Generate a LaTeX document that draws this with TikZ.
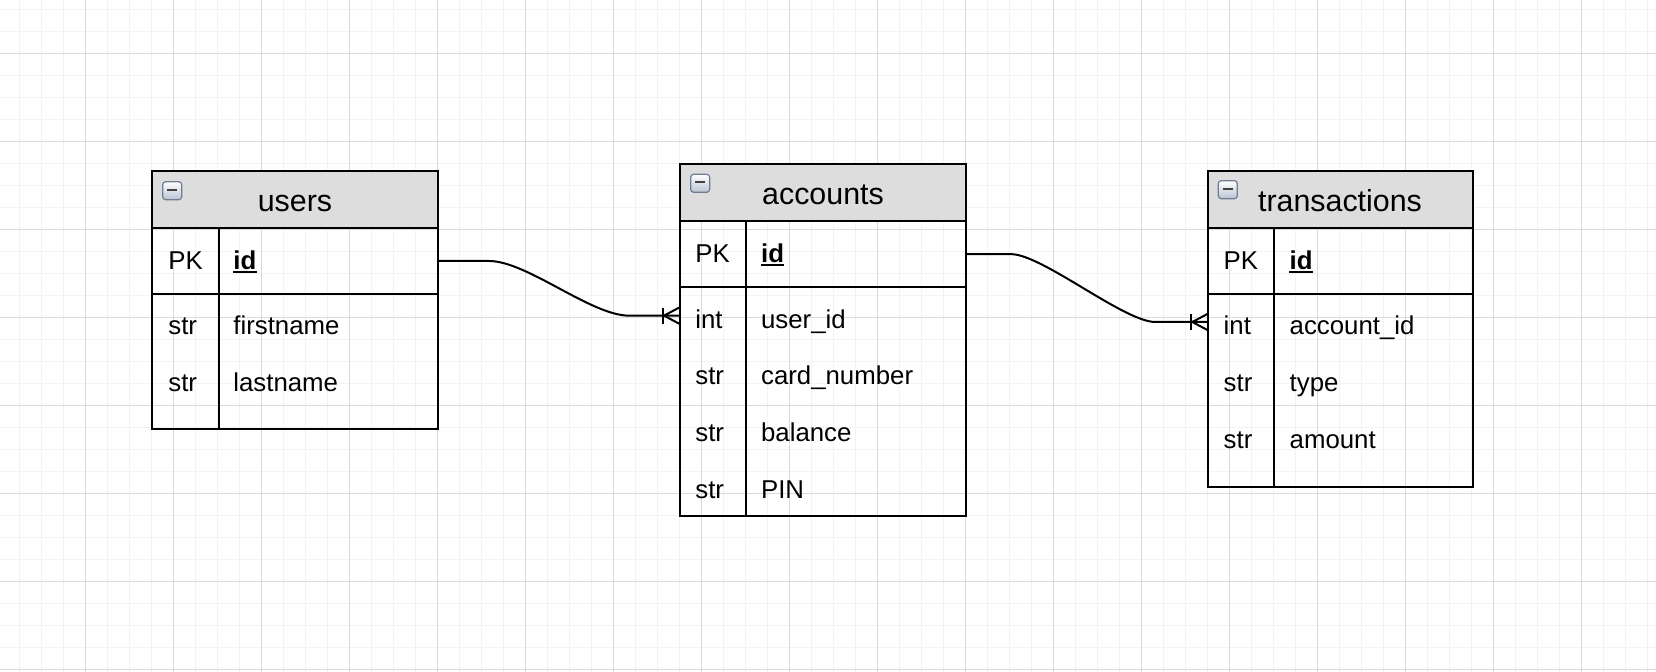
\documentclass[tikz,border=0pt]{standalone}
\usepackage{fontspec}
\setmainfont{Liberation Sans}
\usetikzlibrary{fit,calc}
\definecolor{hdrgray}{RGB}{221,221,221}
\definecolor{gridmajor}{RGB}{218,218,218}
\definecolor{gridminor}{RGB}{243,243,243}
\definecolor{iconedge}{RGB}{110,125,145}
\definecolor{iconbot}{RGB}{185,196,210}
\begin{document}
\begin{tikzpicture}[x=0.5pt,y=-0.5pt,
  box/.style={draw, line width=1pt, inner sep=0pt, outer sep=0pt},
  hdr/.style={box, fill=hdrgray},
  rowarea/.style={inner sep=0pt, outer sep=0pt},
  divider/.style={line width=1pt},
  title/.style={anchor=base, inner sep=0pt, font=\fontsize{15.2}{18}\selectfont},
  fld/.style={anchor=base west, inner sep=0pt, font=\fontsize{12.9}{15}\selectfont},
  key/.style={anchor=base west, inner sep=0pt, font=\fontsize{12.9}{15}\selectfont\bfseries},
  uline/.style={line width=0.85pt},
  conn/.style={line width=1pt},
  minorgrid/.style={gridminor, line width=0.75pt},
  majorgrid/.style={gridmajor, line width=0.5pt},
  icon/.style={draw=iconedge, line width=0.6pt, rounded corners=1.5pt, top color=white, bottom color=iconbot},
  minusbox/.pic={\draw[icon] (0,0) rectangle (19,18); \draw[line width=0.85pt, black!75] (4.5,8) -- (14.5,8);},
  crowfoot/.pic={\draw[conn] (-17,-8) -- (-17,8); \draw[conn] (0,-8.5) -- (-16,0) -- (0,8.5);}
]
\useasboundingbox (0,0) rectangle (1656,672);
\fill[white] (0,0) rectangle (1656,672);
% grid
\foreach \i in {0,...,76} {\draw[minorgrid] ({-2.3+22*\i},0) -- ({-2.3+22*\i},672);}
\foreach \j in {0,...,30} {\draw[minorgrid] (0,{9.3+22*\j}) -- (1656,{9.3+22*\j});}
\foreach \i in {0,...,19} {\draw[majorgrid] ({-2.3+88*\i},0) -- ({-2.3+88*\i},672);}
\foreach \j in {0,...,7} {\draw[majorgrid] (0,{53.3+88*\j}) -- (1656,{53.3+88*\j});}

% ---------- users ----------
\node[hdr, fit={(152,171)(438,228)}] (uhead) {};
\node[box, fit={(152,228)(438,294)}] (upk) {};
\node[box, fit={(152,294)(438,429)}] (ubody) {};
\draw[divider] (219,228) -- (219,429);
\pic at (162.7,181.7) {minusbox};
\node[title] (ut) at (295,211.7) {users};
\node[fld] (upkl) at (168,269.3) {PK};
\node[key] (uid) at (233,269.3) {id};
\draw[uline] ($(uid.south west)+(0,2.3)$) -- ($(uid.south east)+(0,2.3)$);
\node[fld] (ut1) at (168,335) {str};
\node[fld] (un1) at (233,335) {firstname};
\node[fld] (ut2) at (168,391.7) {str};
\node[fld] (un2) at (233,391.7) {lastname};

% ---------- accounts ----------
\node[hdr, fit={(680,164)(966,221)}] (ahead) {};
\node[box, fit={(680,221)(966,287.3)}] (apk) {};
\node[box, fit={(680,287.3)(966,515.7)}] (abody) {};
\node[rowarea, fit={(680,287.3)(966,344)}] (arow1) {};
\draw[divider] (746.3,221) -- (746.3,515.7);
\pic at (690.7,174.3) {minusbox};
\node[title] (at) at (823,205) {accounts};
\node[fld] (apkl) at (695,262.3) {PK};
\node[key] (aid) at (760.7,262.3) {id};
\draw[uline] ($(aid.south west)+(0,2.3)$) -- ($(aid.south east)+(0,2.3)$);
\node[fld] (at1) at (695,328.3) {int};
\node[fld] (an1) at (760.7,328.3) {user\_id};
\node[fld] (at2) at (695,385) {str};
\node[fld] (an2) at (760.7,385) {card\_number};
\node[fld] (at3) at (695,441.7) {str};
\node[fld] (an3) at (760.7,441.7) {balance};
\node[fld] (at4) at (695,498.4) {str};
\node[fld] (an4) at (760.7,498.4) {PIN};

% ---------- transactions ----------
\node[hdr, fit={(1208.3,171)(1472.7,228)}] (thead) {};
\node[box, fit={(1208.3,228)(1472.7,294)}] (tpk) {};
\node[box, fit={(1208.3,294)(1472.7,486.7)}] (tbody) {};
\node[rowarea, fit={(1208.3,294)(1472.7,350)}] (trow1) {};
\draw[divider] (1274,228) -- (1274,486.7);
\pic at (1218.3,180.7) {minusbox};
\node[title] (tt) at (1340,211.7) {transactions};
\node[fld] (tpkl) at (1223.3,269.3) {PK};
\node[key] (tid) at (1289.3,269.3) {id};
\draw[uline] ($(tid.south west)+(0,2.3)$) -- ($(tid.south east)+(0,2.3)$);
\node[fld] (tt1) at (1223.3,335) {int};
\node[fld] (tn1) at (1289.3,335) {account\_id};
\node[fld] (tt2) at (1223.3,391.7) {str};
\node[fld] (tn2) at (1289.3,391.7) {type};
\node[fld] (tt3) at (1223.3,448.4) {str};
\node[fld] (tn3) at (1289.3,448.4) {amount};

% ---------- connectors ----------
\draw[conn] (upk.east) -- ++(51,0) .. controls +(38,0) and +(-38,0) .. ($(arow1.west)+(-51,0)$) -- (arow1.west);
\pic at (arow1.west) {crowfoot};
\draw[conn] (apk.east) -- ++(45,0) .. controls +(31,0) and +(-31,0) .. ($(trow1.west)+(-53,0)$) -- (trow1.west);
\pic at (trow1.west) {crowfoot};
\end{tikzpicture}
\end{document}
